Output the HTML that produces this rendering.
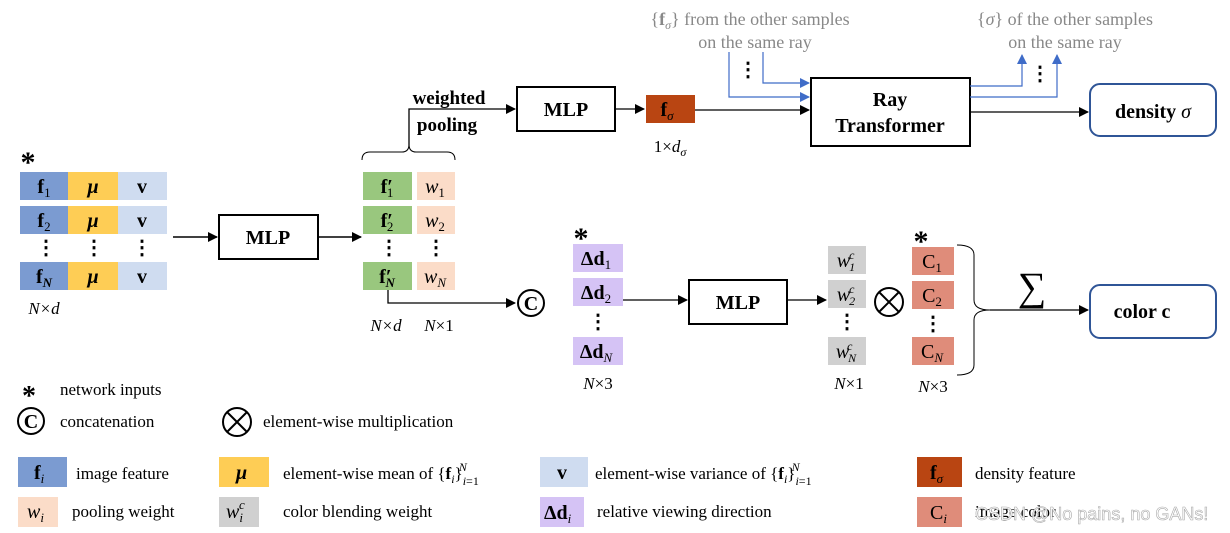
<!DOCTYPE html>
<html><head><meta charset="utf-8"><style>
body{margin:0;background:#fff}
svg{display:block}
text{font-family:"Liberation Serif",serif}
.b{font-weight:bold}
.i{font-style:italic}
.g{fill:#888}
</style></head><body>
<svg width="1230" height="533" viewBox="0 0 1230 533" xmlns="http://www.w3.org/2000/svg">
<defs>
<marker id="a" markerWidth="10" markerHeight="10" refX="9" refY="5" orient="auto" markerUnits="userSpaceOnUse"><path d="M0,0 L10,5 L0,10z" fill="#000"/></marker>
<marker id="ab" markerWidth="10" markerHeight="10" refX="9" refY="5" orient="auto" markerUnits="userSpaceOnUse"><path d="M0,0 L10,5 L0,10z" fill="#3f6cc8"/></marker>
</defs>
<g font-size="20" text-anchor="middle">
<!-- left grid -->
<text x="28" y="172" font-size="30" class="b">*</text>
<rect x="20" y="172" width="48" height="28" fill="#7b9bd1"/><rect x="68" y="172" width="50" height="28" fill="#fecd55"/><rect x="118" y="172" width="49" height="28" fill="#cfdcf0"/>
<rect x="20" y="206" width="48" height="28" fill="#7b9bd1"/><rect x="68" y="206" width="50" height="28" fill="#fecd55"/><rect x="118" y="206" width="49" height="28" fill="#cfdcf0"/>
<rect x="20" y="262" width="48" height="28" fill="#7b9bd1"/><rect x="68" y="262" width="50" height="28" fill="#fecd55"/><rect x="118" y="262" width="49" height="28" fill="#cfdcf0"/>
<text x="44" y="193" class="b">f<tspan font-size="13" font-weight="normal" dy="4">1</tspan></text>
<text x="44" y="227" class="b">f<tspan font-size="13" font-weight="normal" dy="4">2</tspan></text>
<text x="44" y="283" class="b">f<tspan font-size="13" font-style="italic" dy="4">N</tspan></text>
<text x="93" y="193" class="b i">μ</text><text x="93" y="227" class="b i">μ</text><text x="93" y="283" class="b i">μ</text>
<text x="142" y="193" class="b">v</text><text x="142" y="227" class="b">v</text><text x="142" y="283" class="b">v</text>
<text x="46" y="254" class="b">⋮</text><text x="94" y="254" class="b">⋮</text><text x="142" y="254" class="b">⋮</text>
<text x="44" y="314" font-size="17" class="i">N×d</text>
<line x1="173" y1="237" x2="217" y2="237" stroke="#000" stroke-width="1.5" marker-end="url(#a)"/>
<rect x="219" y="215" width="99" height="44" fill="none" stroke="#000" stroke-width="2"/>
<text x="268" y="244" class="b">MLP</text>
<line x1="318" y1="237" x2="361" y2="237" stroke="#000" stroke-width="1.5" marker-end="url(#a)"/>
<!-- green/peach -->
<rect x="363" y="172" width="49" height="28" fill="#99c77e"/><rect x="417" y="172" width="38" height="28" fill="#fbdcc8"/>
<rect x="363" y="206" width="49" height="28" fill="#99c77e"/><rect x="417" y="206" width="38" height="28" fill="#fbdcc8"/>
<rect x="363" y="262" width="49" height="28" fill="#99c77e"/><rect x="417" y="262" width="38" height="28" fill="#fbdcc8"/>
<text x="387" y="193" class="b">f′<tspan font-size="13" font-weight="normal" dy="4" dx="-6">1</tspan></text>
<text x="387" y="227" class="b">f′<tspan font-size="13" font-weight="normal" dy="4" dx="-6">2</tspan></text>
<text x="387" y="283" class="b">f′<tspan font-size="13" font-style="italic" dy="4" dx="-6">N</tspan></text>
<text x="435" y="193" class="i">w<tspan font-size="13" font-style="normal" dy="4">1</tspan></text>
<text x="435" y="227" class="i">w<tspan font-size="13" font-style="normal" dy="4">2</tspan></text>
<text x="435" y="283" class="i">w<tspan font-size="13" dy="4">N</tspan></text>
<text x="389" y="254" class="b">⋮</text><text x="436" y="254" class="b">⋮</text>
<text x="386" y="331" font-size="17" class="i">N×d</text><text x="439" y="331" font-size="17"><tspan class="i">N</tspan>×1</text>
<path d="M362,160 Q362,152 370,152 L402,152 Q408,152 409,146 Q410,152 416,152 L447,152 Q455,152 455,160" fill="none" stroke="#000" stroke-width="1"/>
<polyline points="409,148 409,109 515,109" fill="none" stroke="#000" stroke-width="1.3" marker-end="url(#a)"/>
<text x="449" y="104" font-size="19" class="b">weighted</text>
<text x="447" y="131" font-size="19" class="b">pooling</text>
<rect x="517" y="87" width="98" height="44" fill="none" stroke="#000" stroke-width="2"/>
<text x="566" y="116" class="b">MLP</text>
<line x1="615" y1="109" x2="644" y2="109" stroke="#000" stroke-width="1.3" marker-end="url(#a)"/>
<rect x="646" y="95" width="49" height="28" fill="#b94512"/>
<text x="667" y="116" class="b">f<tspan font-size="13" font-weight="normal" font-style="italic" dy="4">σ</tspan></text>
<text x="670" y="152" font-size="17">1×<tspan class="i">d</tspan><tspan font-size="12" class="i" dy="4">σ</tspan></text>
<line x1="695" y1="110" x2="809" y2="110" stroke="#000" stroke-width="1.3" marker-end="url(#a)"/>
<text x="750" y="25" font-size="18" class="g">{<tspan font-weight="bold">f</tspan><tspan font-size="12" class="i" dy="4">σ</tspan><tspan dy="-4">} from the other samples</tspan></text>
<text x="755" y="48" font-size="18" class="g">on the same ray</text>
<text x="1065" y="25" font-size="18" class="g">{<tspan class="i">σ</tspan>} of the other samples</text>
<text x="1065" y="48" font-size="18" class="g">on the same ray</text>
<polyline points="729,52 729,97 809,97" fill="none" stroke="#3f6cc8" stroke-width="1.2" marker-end="url(#ab)"/>
<polyline points="763,52 763,83 809,83" fill="none" stroke="#3f6cc8" stroke-width="1.2" marker-end="url(#ab)"/>
<text x="748" y="76" class="b">⋮</text>
<rect x="811" y="78" width="159" height="68" fill="none" stroke="#000" stroke-width="2"/>
<text x="890" y="106" class="b">Ray</text><text x="890" y="132" class="b">Transformer</text>
<polyline points="970,86 1022,86 1022,55" fill="none" stroke="#3f6cc8" stroke-width="1.2" marker-end="url(#ab)"/>
<polyline points="970,97 1057,97 1057,55" fill="none" stroke="#3f6cc8" stroke-width="1.2" marker-end="url(#ab)"/>
<text x="1040" y="80" class="b">⋮</text>
<line x1="970" y1="112" x2="1088" y2="112" stroke="#000" stroke-width="1.3" marker-end="url(#a)"/>
<rect x="1090" y="84" width="126" height="52" rx="10" fill="none" stroke="#2f5597" stroke-width="2"/>
<text x="1153" y="118" class="b">density <tspan class="i" font-weight="normal">σ</tspan></text>
<!-- lower -->
<polyline points="388,290 388,303 515,303" fill="none" stroke="#000" stroke-width="1.3" marker-end="url(#a)"/>
<circle cx="531" cy="303" r="13" fill="none" stroke="#000" stroke-width="2"/>
<text x="531" y="310" font-size="20" class="b">C</text>
<text x="581" y="248" font-size="30" class="b">*</text>
<rect x="573" y="244" width="50" height="28" fill="#d5c3f5"/><rect x="573" y="278" width="50" height="28" fill="#d5c3f5"/><rect x="573" y="337" width="50" height="28" fill="#d5c3f5"/>
<text x="596" y="265" class="b">Δd<tspan font-size="13" font-weight="normal" dy="4">1</tspan></text>
<text x="596" y="299" class="b">Δd<tspan font-size="13" font-weight="normal" dy="4">2</tspan></text>
<text x="596" y="358" class="b">Δd<tspan font-size="13" font-style="italic" font-weight="normal" dy="4">N</tspan></text>
<text x="598" y="328" class="b">⋮</text>
<text x="598" y="389" font-size="17"><tspan class="i">N</tspan>×3</text>
<line x1="623" y1="300" x2="687" y2="300" stroke="#000" stroke-width="1.3" marker-end="url(#a)"/>
<rect x="689" y="280" width="98" height="44" fill="none" stroke="#000" stroke-width="2"/>
<text x="738" y="309" class="b">MLP</text>
<line x1="787" y1="300" x2="826" y2="300" stroke="#000" stroke-width="1.3" marker-end="url(#a)"/>
<rect x="828" y="246" width="38" height="28" fill="#d0d0d0"/><rect x="828" y="280" width="38" height="28" fill="#d0d0d0"/><rect x="828" y="337" width="38" height="28" fill="#d0d0d0"/>
<text x="846" y="267" class="i">w<tspan font-size="12" dy="4" dx="-1">1</tspan><tspan font-size="12" dy="-12" dx="-6">c</tspan></text>
<text x="846" y="301" class="i">w<tspan font-size="12" dy="4" dx="-1">2</tspan><tspan font-size="12" dy="-12" dx="-6">c</tspan></text>
<text x="846" y="358" class="i">w<tspan font-size="12" dy="4" dx="-1">N</tspan><tspan font-size="12" dy="-12" dx="-9">c</tspan></text>
<text x="847" y="328" class="b">⋮</text>
<text x="849" y="389" font-size="17"><tspan class="i">N</tspan>×1</text>
<circle cx="889" cy="302" r="14" fill="none" stroke="#000" stroke-width="2"/>
<path d="M879,292 L899,312 M899,292 L879,312" stroke="#000" stroke-width="2"/>
<text x="921" y="251" font-size="30" class="b">*</text>
<rect x="912" y="247" width="42" height="28" fill="#df8c7a"/><rect x="912" y="281" width="42" height="28" fill="#df8c7a"/><rect x="912" y="337" width="42" height="28" fill="#df8c7a"/>
<text x="932" y="268">C<tspan font-size="13" dy="4">1</tspan></text>
<text x="932" y="302">C<tspan font-size="13" dy="4">2</tspan></text>
<text x="932" y="358">C<tspan font-size="13" class="i" dy="4">N</tspan></text>
<text x="933" y="330" class="b">⋮</text>
<text x="933" y="392" font-size="17"><tspan class="i">N</tspan>×3</text>
<path d="M957,245 Q974,245 974,255 L974,300 Q974,310 990,310 Q974,310 974,320 L974,365 Q974,375 957,375" fill="none" stroke="#000" stroke-width="1"/>
<text x="1032" y="300" font-size="40">∑</text>
<line x1="990" y1="310" x2="1088" y2="310" stroke="#000" stroke-width="1.3" marker-end="url(#a)"/>
<rect x="1090" y="285" width="126" height="53" rx="10" fill="none" stroke="#2f5597" stroke-width="2"/>
<text x="1142" y="318" class="b">color   c</text>
</g>
<!-- legend -->
<g font-size="17">
<text x="22" y="405" font-size="28" class="b">*</text>
<text x="60" y="395">network inputs</text>
<circle cx="31" cy="421" r="13" fill="none" stroke="#000" stroke-width="2"/>
<text x="31" y="428" font-size="20" class="b" text-anchor="middle">C</text>
<text x="60" y="427">concatenation</text>
<circle cx="237" cy="422" r="14" fill="none" stroke="#000" stroke-width="2"/>
<path d="M227,412 L247,432 M247,412 L227,432" stroke="#000" stroke-width="2"/>
<text x="263" y="427">element-wise multiplication</text>
<rect x="18" y="457" width="49" height="30" fill="#7b9bd1"/><text x="34" y="479" font-size="20" class="b">f<tspan font-size="13" class="i" font-weight="normal" dy="4">i</tspan></text>
<text x="76" y="479">image feature</text>
<rect x="219" y="457" width="50" height="30" fill="#fecd55"/><text x="236" y="479" font-size="20" class="b i">μ</text>
<text x="283" y="479">element-wise mean of {<tspan font-weight="bold">f</tspan><tspan class="i" font-size="12" dy="4">i</tspan><tspan dy="-4">}</tspan><tspan class="i" font-size="12" dy="6">i</tspan><tspan font-size="12">=1</tspan><tspan class="i" font-size="12" dy="-14" dx="-20">N</tspan></text>
<rect x="540" y="457" width="48" height="30" fill="#cfdcf0"/><text x="557" y="479" font-size="20" class="b">v</text>
<text x="595" y="479">element-wise variance of {<tspan font-weight="bold">f</tspan><tspan class="i" font-size="12" dy="4">i</tspan><tspan dy="-4">}</tspan><tspan class="i" font-size="12" dy="6">i</tspan><tspan font-size="12">=1</tspan><tspan class="i" font-size="12" dy="-14" dx="-20">N</tspan></text>
<rect x="917" y="457" width="45" height="30" fill="#b94512"/><text x="930" y="479" font-size="20" class="b">f<tspan font-size="13" class="i" font-weight="normal" dy="4">σ</tspan></text>
<text x="975" y="479">density feature</text>
<rect x="18" y="497" width="40" height="30" fill="#fbdcc8"/><text x="27" y="518" font-size="20" class="i">w<tspan font-size="13" dy="4">i</tspan></text>
<text x="72" y="517">pooling weight</text>
<rect x="219" y="497" width="40" height="30" fill="#d0d0d0"/><text x="226" y="518" font-size="20" class="i">w<tspan font-size="13" dy="4">i</tspan><tspan font-size="13" dy="-13" dx="-4">c</tspan></text>
<text x="283" y="517">color blending weight</text>
<rect x="540" y="497" width="44" height="30" fill="#d5c3f5"/><text x="544" y="519" font-size="20" class="b">Δd<tspan font-size="13" class="i" font-weight="normal" dy="4">i</tspan></text>
<text x="597" y="517">relative viewing direction</text>
<rect x="917" y="497" width="45" height="30" fill="#df8c7a"/><text x="930" y="519" font-size="20">C<tspan font-size="13" class="i" dy="4">i</tspan></text>
<text x="975" y="517">image color</text>
<text x="975" y="520" font-size="18" style="font-family:'Liberation Sans',sans-serif" fill="#fff" stroke="#aaa" stroke-width="0.6">CSDN @No pains, no GANs!</text>
</g>
</svg>
</body></html>
